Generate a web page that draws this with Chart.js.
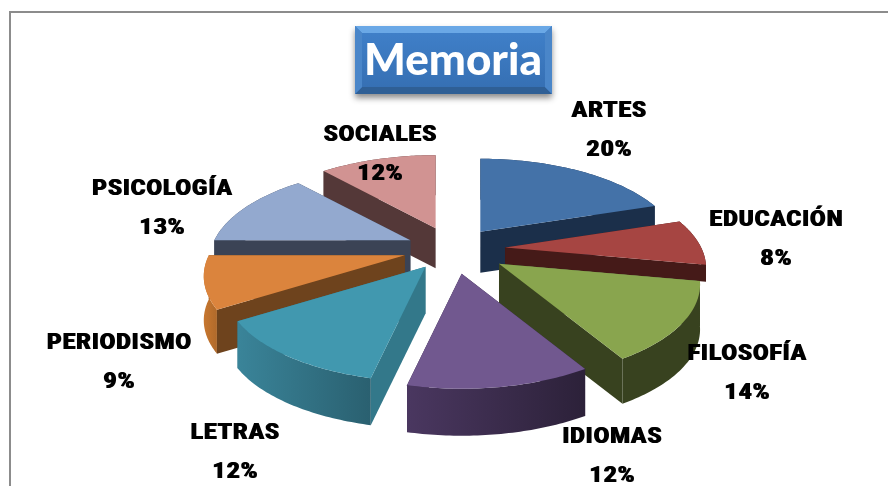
<!DOCTYPE html>
<html><head><meta charset="utf-8">
<style>
html,body{margin:0;padding:0;background:#fff;overflow:hidden}
#frame{position:absolute;left:9px;top:11px;width:879px;height:475px;border-left:2px solid #8c8c8c;border-top:2px solid #8c8c8c;overflow:hidden;box-sizing:border-box}
canvas{display:block}
</style>
<script src="https://cdn.jsdelivr.net/npm/chart.js@4"></script>
</head><body>
<div id="frame"><canvas id="c" width="884" height="473" style="width:884px;height:473px"></canvas></div>
<script>
const categories = ['ARTES','EDUCACIÓN','FILOSOFÍA','IDIOMAS','LETRAS','PERIODISMO','PSICOLOGÍA','SOCIALES'];
const values = [20,8,13.5,12,12.49,9,13.4,11.61];
const topColors = ['#4472a8','#a64542','#89a54e','#71588f','#4198af','#db843d','#93a9cf','#d19392'];
const radialWallColors = ['#1b2f4a','#451a18','#38421f','#2f233f','#33788a','#6e431d','#3b4355','#543838'];
const arcWallLeft = ['#1b2f4a','#451a18','#38421f','#4a3760','#3a8499','#c8772f','#3b4355','#543838'];
const arcWallRight = ['#1b2f4a','#451a18','#38421f','#2c2139','#2a6070','#b06a2b','#3b4355','#543838'];
const explode = [28,27,25,22,20,24,26,30];
const depths = [41,17,45,47,47,44,33,40];
const labelAnchors = [[598,98],[765,207],[736,341],[601,424],[224,420],[108,330],[151,176],[369,122]];

const PROJ = {A:196, B:89.3, t:0.223};
function shape(a){const w=1-PROJ.t*Math.sin(a);return {x:PROJ.A*Math.cos(a)/w,y:PROJ.B*Math.sin(a)/w};}

const pie3d = {
  id:'pie3d',
  beforeDraw(chart){
    const c=chart.ctx, x=344, y=13, w=197, h=68, b=7;
    c.save();
    c.shadowColor='rgba(0,0,0,.45)';c.shadowBlur=6;c.shadowOffsetY=4;
    c.fillStyle='#3b78bf';c.fillRect(x,y,w,h);
    c.restore();
    const g=c.createLinearGradient(0,y+b,0,y+h-b);
    g.addColorStop(0,'#3f7fc8');g.addColorStop(1,'#3670b4');
    const poly=(pts,f)=>{c.beginPath();pts.forEach((p,i)=>i?c.lineTo(p[0],p[1]):c.moveTo(p[0],p[1]));c.closePath();c.fillStyle=f;c.fill();};
    poly([[x,y],[x+w,y],[x+w-b,y+b],[x+b,y+b]],'#6aa8e6');
    poly([[x,y+h],[x+w,y+h],[x+w-b,y+h-b],[x+b,y+h-b]],'#2f5f95');
    poly([[x,y],[x+b,y+b],[x+b,y+h-b],[x,y+h]],'#4a86c9');
    poly([[x+w,y],[x+w-b,y+b],[x+w-b,y+h-b],[x+w,y+h]],'#4a86c9');
    c.fillStyle=g;c.fillRect(x+b,y+b,w-2*b,h-2*b);
  },
  beforeDatasetsDraw(chart){
    const c=chart.ctx, arcs=chart.getDatasetMeta(0).data;
    const parts=arcs.map((arc,i)=>{
      const mid=(arc.startAngle+arc.endAngle)/2, d=arc.options.offset/100, s=shape(mid);
      return {i,arc,ax:arc.x+s.x*d,ay:arc.y+s.y*d};
    }).sort((p,q)=>p.ay-q.ay);
    parts.forEach(({i,arc,ax,ay})=>{
      const D=depths[i], rim=[], n=48;
      for(let k=0;k<=n;k++){const a=arc.startAngle+(arc.endAngle-arc.startAngle)*k/n,s=shape(a);rim.push([ax+s.x,ay+s.y]);}
      const first=rim[0], last=rim[n];
      const quad=(p,q,f)=>{c.beginPath();c.moveTo(p[0],p[1]);c.lineTo(q[0],q[1]);c.lineTo(q[0],q[1]+D);c.lineTo(p[0],p[1]+D);c.closePath();c.fillStyle=f;c.fill();};
      const walls=[
        {y:(ay+first[1])/2,draw(){quad([ax,ay],first,radialWallColors[i]);}},
        {y:(ay+last[1])/2,draw(){quad([ax,ay],last,radialWallColors[i]);}},
        {y:(first[1]+last[1]+rim[n>>1][1]*2)/4,draw(){
          const xs=rim.map(p=>p[0]),x0=Math.min(...xs),x1=Math.max(...xs);
          const g=c.createLinearGradient(x0,0,x1,0);
          g.addColorStop(0,arcWallLeft[i]);g.addColorStop(1,arcWallRight[i]);
          c.beginPath();
          rim.forEach((p,k)=>k?c.lineTo(p[0],p[1]):c.moveTo(p[0],p[1]));
          for(let k=n;k>=0;k--)c.lineTo(rim[k][0],rim[k][1]+D);
          c.closePath();c.fillStyle=g;c.fill();
        }}
      ].sort((p,q)=>p.y-q.y);
      walls.forEach(w=>w.draw());
      c.beginPath();c.moveTo(ax,ay);rim.forEach(p=>c.lineTo(p[0],p[1]));c.closePath();
      c.fillStyle=topColors[i];c.fill();
    });
    return false;
  },
  afterDraw(chart){
    const c=chart.ctx;
    c.save();
    c.fillStyle='#000';c.textAlign='center';c.textBaseline='middle';
    c.font='900 22.5px Roboto, "DejaVu Sans", sans-serif';
    c.shadowColor='#000';c.shadowOffsetX=1;c.shadowBlur=0;
    c.letterSpacing='1px';
    categories.forEach((name,i)=>{
      const [x,y]=labelAnchors[i];
      c.fillText(name,x,y);
      c.fillText(Math.round(values[i])+'%',x,y+39);
    });
    c.restore();
  }
};

new Chart(document.getElementById('c'),{
  type:'pie',
  data:{labels:categories,datasets:[{data:values,backgroundColor:topColors,offset:explode,borderWidth:0}]},
  options:{
    responsive:false,animation:false,
    layout:{padding:{bottom:75}},
    plugins:{
      legend:{display:false},tooltip:{enabled:false},
      title:{display:true,text:'Memoria',color:'#fff',padding:{top:21,bottom:0},
        font:{family:'Lato, "Liberation Sans", sans-serif',size:44,weight:'900'}}
    }
  },
  plugins:[pie3d]
});
</script>
</body></html>
